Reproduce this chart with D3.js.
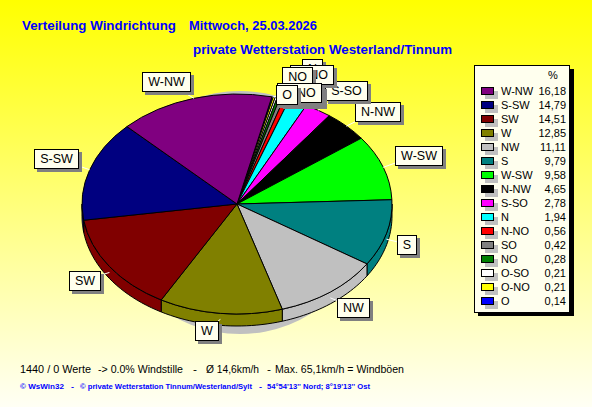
<!DOCTYPE html>
<html><head><meta charset="utf-8">
<script src="https://cdn.jsdelivr.net/npm/d3@7/dist/d3.min.js"></script>
<style>html,body{margin:0;padding:0;background:#fff}svg{display:block}text{font-family:"Liberation Sans",Arial,sans-serif}</style>
</head><body><svg id="c" width="592" height="407"></svg>
<script>
const categories=["O","O-NO","O-SO","NO","SO","N-NO","N","S-SO","N-NW","W-SW","S","NW","W","SW","S-SW","W-NW"];
const values=[0.14,0.21,0.21,0.28,0.42,0.56,1.94,2.78,4.65,9.58,9.79,11.11,12.85,14.51,14.79,16.18];
const colours=["#0000ff","#ffff00","#ffffff","#008000","#808080","#ff0000","#00ffff","#ff00ff","#000000","#00ff00","#008080","#c0c0c0","#808000","#800000","#000080","#800080"];
const legendOrder=["W-NW","S-SW","SW","W","NW","S","W-SW","N-NW","S-SO","N","N-NO","SO","NO","O-SO","O-NO","O"];
const labelCentres={"W-NW":[165.5,81.5],"S-SW":[56,158],"SW":[84.5,280],"W":[206,330],"NW":[353,307],"S":[406,244],"W-SW":[418,155],"N-NW":[377,111],"S-SO":[346,90],"N":[312,68],"N-NO":[311.5,74],"SO":[297,76],"NO":[297,76],"O-SO":[301,95],"O-NO":[299,92],"O":[286.5,94]};
const cx=237,cy=204,rx=155,ry=110,depth=12,start=13*Math.PI/180;
const svg=d3.select("#c");
const defs=svg.append("defs");
const g=defs.append("linearGradient").attr("id","bg").attr("x1",0).attr("x2",0).attr("y1",0).attr("y2",1);
g.append("stop").attr("offset",0).attr("stop-color","#ffff00");
g.append("stop").attr("offset",1).attr("stop-color","#fffff5");
svg.append("rect").attr("width",592).attr("height",407).attr("fill","url(#bg)");
const blue="#0000ff";
function txt(x,y,s,size,weight,fill,anchor,len){const t=svg.append("text").attr("x",x).attr("y",y).text(s).attr("font-size",size).attr("font-weight",weight).attr("fill",fill).attr("text-anchor",anchor||"start");if(len)t.attr("textLength",len).attr("lengthAdjust","spacingAndGlyphs");return t;}
txt(22,30,"Verteilung Windrichtung",13.3,"bold",blue,"start",154);
txt(189,30,"Mittwoch, 25.03.2026",13.3,"bold",blue,"start",128);
txt(193,54,"private Wetterstation Westerland/Tinnum",13.3,"bold",blue,"start",259);
[[20,"1440 / 0 Werte",71],[98,"-> 0.0% Windstille",85],[193,"-",4],[206,"Ø 14,6km/h",53],[267,"-",4],[275,"Max. 65,1km/h = Windböen",129]].forEach(p=>txt(p[0],373,p[1],11.5,"normal","#000","start",p[2]));
[[20,"© WsWin32",44],[71,"-",3],[80,"© private Wetterstation Tinnum/Westerland/Sylt",172],[259,"-",3],[267,"54°54'13'' Nord; 8°19'13'' Ost",103]].forEach(p=>txt(p[0],389,p[1],7.5,"bold",blue,"start",p[2]));

const pie=d3.pie().sort(null).startAngle(start).endAngle(start+2*Math.PI);
const arcs=pie(values);
const pt=(a,dy=0)=>[cx+rx*Math.sin(a),cy-ry*Math.cos(a)+dy];
const line=d3.line();
// shadow
svg.append("ellipse").attr("cx",240).attr("cy",212.5).attr("rx",128).attr("ry",121.5).attr("fill","#c0c0c0");
// side wall
const lo=Math.PI/2,hi=3*Math.PI/2;
arcs.forEach((d,i)=>{
  const a0=Math.max(d.startAngle,lo),a1=Math.min(d.endAngle,hi);
  if(a1<=a0)return;
  const as=d3.range(0,25).map(k=>a0+(a1-a0)*k/24);
  const p=as.map(a=>pt(a)).concat(as.slice().reverse().map(a=>pt(a,depth)));
  svg.append("path").attr("d",line(p)+"Z").attr("fill",colours[i]).attr("stroke","#000").attr("stroke-width",1);
});
// top faces
const arc=d3.arc().innerRadius(0).outerRadius(rx);
const face=svg.append("g").attr("transform",`translate(${cx},${cy}) scale(1,${ry/rx})`);
face.selectAll("path").data(arcs).join("path").attr("d",arc).attr("fill",(d,i)=>colours[i]).attr("stroke","#000").attr("stroke-width",1).attr("vector-effect","non-scaling-stroke");
// leaders, then label boxes: later categories lie underneath
const drawOrder=categories.slice().reverse();
const byName=new Map(categories.map((c,i)=>[c,arcs[i]]));
drawOrder.forEach(name=>{
  const d=byName.get(name),mid=(d.startAngle+d.endAngle)/2;
  const [lx,ly]=labelCentres[name];
  const p=pt(mid,mid>lo&&mid<hi?depth/2:0);
  svg.append("line").attr("x1",p[0]).attr("y1",p[1]).attr("x2",lx).attr("y2",ly).attr("stroke","#fff");
});
drawOrder.forEach(name=>{
  const [lx,ly]=labelCentres[name];
  const t=txt(lx,ly+4.5,name,12.5,"normal","#000","middle");
  const w=Math.round(t.node().getComputedTextLength()+11),h=19;
  t.remove();
  const x0=Math.round(lx-w/2),y0=Math.round(ly-h/2);
  svg.append("rect").attr("x",x0+3).attr("y",y0+3).attr("width",w+1).attr("height",h+1).attr("fill","#808080");
  svg.append("rect").attr("x",x0+.5).attr("y",y0+.5).attr("width",w).attr("height",h).attr("fill","#ffffee").attr("stroke","#000");
  txt(x0+w/2+.5,ly+4.5,name,12.5,"normal","#000","middle");
});
// legend
svg.append("rect").attr("x",478).attr("y",69).attr("width",96).attr("height",247).attr("fill","#000");
svg.append("rect").attr("x",474.5).attr("y",65.5).attr("width",95).attr("height",247).attr("fill","#ffffee").attr("stroke","#000");
txt(553,79,"%",11,"normal","#000","middle");
const y=d3.scalePoint().domain(legendOrder).range([91,301]);
legendOrder.forEach(name=>{
  const i=categories.indexOf(name),yy=y(name);
  svg.append("rect").attr("x",485).attr("y",yy).attr("width",13).attr("height",8).attr("fill","#c0c0c0");
  svg.append("rect").attr("x",481.5).attr("y",yy-3.5).attr("width",12).attr("height",7).attr("fill",colours[i]).attr("stroke","#000");
  txt(501,yy+4,name,11,"normal","#000");
  txt(566,yy+4,values[i].toFixed(2).replace(".",","),11,"normal","#000","end");
});
</script></body></html>
